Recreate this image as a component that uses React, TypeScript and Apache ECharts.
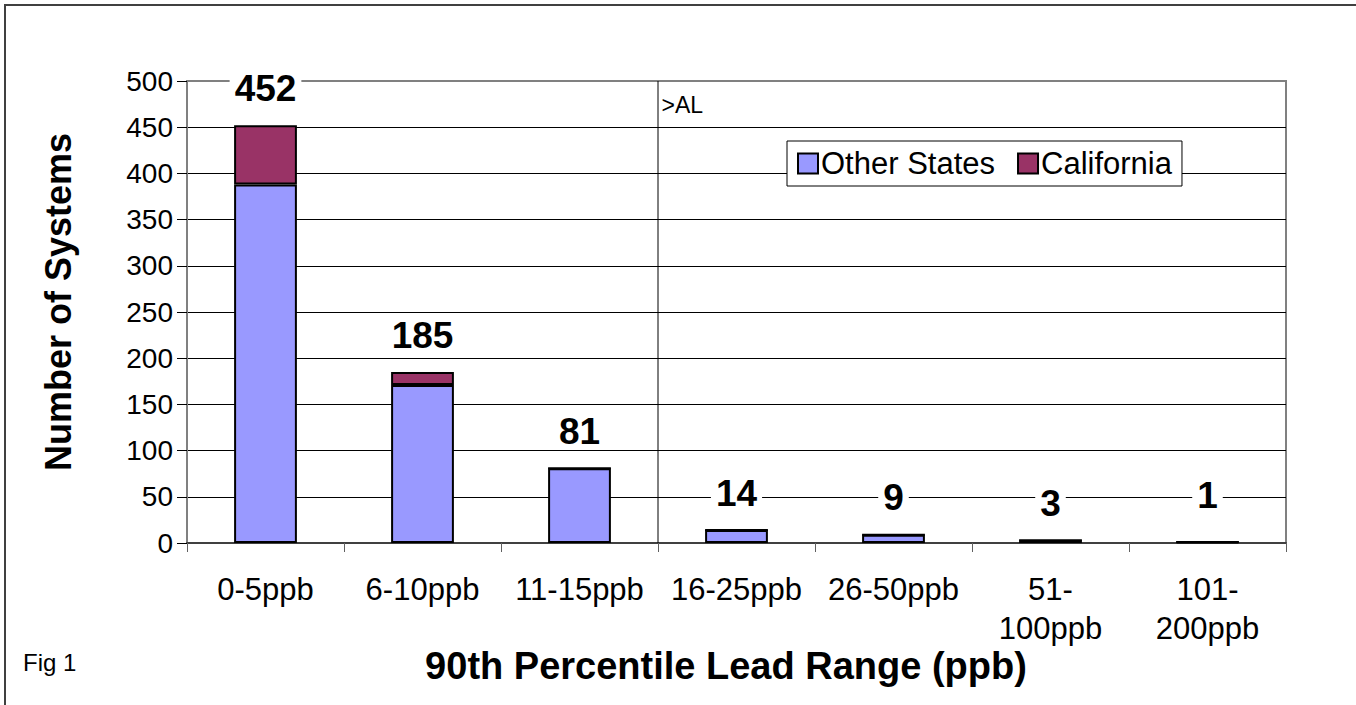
import React, { useEffect, useRef } from "react";
import * as echarts from "echarts";

const categories = ["0-5ppb", "6-10ppb", "11-15ppb", "16-25ppb", "26-50ppb", "51-100ppb", "101-200ppb"];
const otherStates = [388, 171, 81, 14, 9, 3, 1];
const california = [64, 14, 0, 0, 0, 0, 0];
const seriesNames = ["Other States", "California"];
const yMin = 0;
const yMax = 500;
const yInterval = 50;
const alBoundary = 3; // boundary between "11-15ppb" and "16-25ppb"
const alLabel = ">AL";
const xTitle = "90th Percentile Lead Range (ppb)";
const yTitle = "Number of Systems";
const figLabel = "Fig 1";

const FONT = 'Arial, "Liberation Sans", Helvetica, sans-serif';

export default function App() {
  const ref = useRef<HTMLDivElement>(null);

  useEffect(() => {
    if (!ref.current) return;
    const chart = echarts.init(ref.current, null, { renderer: "svg" });
    const totals = otherStates.map((v, i) => v + california[i]);
    const nLines = (yMax - yMin) / yInterval + 1;
    const splitColors = Array.from({ length: nLines }, (_, i) => (i === nLines - 1 ? "#808080" : "#000000"));

    const option: any = {
      animation: false,
      textStyle: { fontFamily: FONT },
      grid: {
        left: 187,
        right: 70,
        top: 81,
        bottom: 162,
        show: true,
        borderColor: "#808080",
        borderWidth: 2,
        backgroundColor: "transparent",
      },
      legend: {
        data: seriesNames,
        left: 787,
        top: 141,
        orient: "horizontal",
        padding: [7, 10, 7, 10],
        itemWidth: 20,
        itemHeight: 20,
        itemGap: 22,
        icon: "rect",
        borderColor: "#000",
        borderWidth: 1,
        backgroundColor: "#fff",
        textStyle: { fontSize: 31, color: "#000", fontFamily: FONT, padding: [0, 0, 0, -2] },
      },
      xAxis: [
        {
          type: "category",
          data: categories,
          boundaryGap: true,
          axisLine: { show: true, lineStyle: { color: "#404040", width: 2 } },
          axisTick: { show: true, alignWithLabel: false, length: 9, lineStyle: { color: "#606060", width: 1 } },
          axisLabel: {
            fontSize: 31,
            color: "#000",
            fontFamily: FONT,
            lineHeight: 39,
            margin: 27,
            interval: 0,
            formatter: (v: string) => (v.length > 8 ? v.replace("-", "-\n") : v),
          },
          splitLine: { show: false },
        },
        {
          type: "value",
          min: 0,
          max: categories.length,
          show: false,
        },
      ],
      yAxis: {
        type: "value",
        min: yMin,
        max: yMax,
        interval: yInterval,
        axisLine: { show: true, lineStyle: { color: "#808080", width: 2 } },
        axisTick: { show: true, inside: false, length: 10, lineStyle: { color: "#000", width: 1 } },
        axisLabel: { fontSize: 28, color: "#000", fontFamily: FONT, margin: 14 },
        splitLine: { show: true, lineStyle: { color: splitColors, width: 1 } },
      },
      series: [
        {
          name: seriesNames[0],
          type: "bar",
          stack: "total",
          data: otherStates,
          barWidth: "40%",
          itemStyle: { color: "#9999FF", borderColor: "#000", borderWidth: 2 },
        },
        {
          name: seriesNames[1],
          type: "bar",
          stack: "total",
          data: california,
          barWidth: "40%",
          itemStyle: { color: "#993366", borderColor: "#000", borderWidth: 2 },
        },
        {
          name: "Totals",
          type: "scatter",
          data: totals.map((v, i) =>
            i === totals.length - 1 ? { value: v, label: { distance: 28 } } : v
          ),
          symbol: "circle",
          symbolSize: 1,
          itemStyle: { color: "rgba(0,0,0,0)", opacity: 1 },
          silent: true,
          z: 5,
          label: {
            show: true,
            position: "top",
            distance: 18,
            fontSize: 37,
            fontWeight: "bold",
            color: "#000000",
            opacity: 1,
            fontFamily: FONT,
            backgroundColor: "#fff",
            padding: [1, 5, 0, 5],
          },
          labelLayout: { hideOverlap: false },
        },
        {
          name: "AL",
          type: "line",
          xAxisIndex: 1,
          yAxisIndex: 0,
          data: [
            [alBoundary, yMin],
            {
              value: [alBoundary, yMax],
              label: {
                show: true,
                formatter: alLabel,
                position: [4, 13],
                fontSize: 23,
                color: "#000",
                fontFamily: FONT,
              },
            },
          ],
          symbol: "circle",
          symbolSize: 1,
          showSymbol: true,
          itemStyle: { color: "rgba(0,0,0,0)", opacity: 1 },
          lineStyle: { color: "#000", width: 1 },
          silent: true,
          z: 3,
        },
      ],
      graphic: [
        {
          type: "rect",
          shape: { x: 5, y: 5, width: 1400, height: 800 },
          style: { fill: "none", stroke: "#404040", lineWidth: 2 },
          silent: true,
          z: -10,
        },
        {
          type: "text",
          x: 58,
          y: 302,
          rotation: Math.PI / 2,
          style: {
            text: yTitle,
            fontSize: 36,
            fontWeight: "bold",
            fontFamily: FONT,
            fill: "#000",
            align: "center",
            verticalAlign: "middle",
          },
        },
        {
          type: "text",
          x: 726,
          y: 666,
          style: {
            text: xTitle,
            fontSize: 38,
            fontWeight: "bold",
            fontFamily: FONT,
            fill: "#000",
            align: "center",
            verticalAlign: "middle",
          },
        },
        {
          type: "text",
          x: 23,
          y: 662,
          style: {
            text: figLabel,
            fontSize: 24,
            fontFamily: FONT,
            fill: "#000",
            align: "left",
            verticalAlign: "middle",
          },
        },
      ],
    };

    chart.setOption(option);
    return () => chart.dispose();
  }, []);

  return (
    <div
      ref={ref}
      style={{ position: "absolute", left: 0, top: 0, width: 1356, height: 705, background: "#fff" }}
    />
  );
}
